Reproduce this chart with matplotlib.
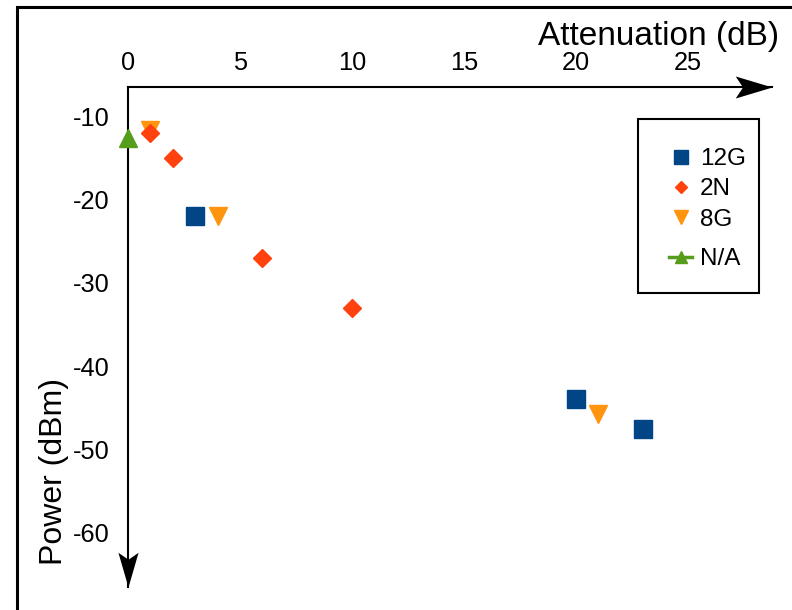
import matplotlib
matplotlib.use("Agg")
import matplotlib.pyplot as plt
from matplotlib.path import Path
from matplotlib.patches import Rectangle

plt.rcParams['font.family'] = ['Liberation Sans', 'DejaVu Sans']
plt.rcParams['axes.unicode_minus'] = False

# ---- data ----
g12_x = [3, 20, 23]
g12_y = [-22, -44, -47.6]
n2_x = [1, 2, 6, 10]
n2_y = [-12, -15, -27, -33]
g8_x = [1, 4, 21]
g8_y = [-11.7, -22, -45.8]
na_x = [0]
na_y = [-12.6]

x_ticks = [0, 5, 10, 15, 20, 25]
y_ticks = [-10, -20, -30, -40, -50, -60]

C_12G = '#004586'
C_2N = '#ff420e'
C_8G = '#ff950e'
C_NA = '#579d1c'

W, H = 792, 610
fig = plt.figure(figsize=(W / 100, H / 100), dpi=100)
ax = fig.add_axes([128 / W, 1 - 587 / H, (772 - 128) / W, (587 - 87) / H])
ax.set_xlim(0, 28.75)
ax.set_ylim(-66.5, -6.5)

ax.plot(g12_x, g12_y, linestyle='none', marker='s', ms=13.5, color=C_12G, label='12G', clip_on=False)
ax.plot(g8_x, g8_y, linestyle='none', marker='v', ms=13.5, color=C_8G, label='8G', clip_on=False)
ax.plot(n2_x, n2_y, linestyle='none', marker='D', ms=8.7, color=C_2N, label='2N', clip_on=False)
ax.plot(na_x, na_y, linestyle='-', lw=2.5, marker='^', ms=13, color=C_NA, label='N/A', clip_on=False, zorder=3)

# axes styling
for s in ['right', 'bottom']:
    ax.spines[s].set_visible(False)
for s in ['top', 'left']:
    ax.spines[s].set_linewidth(1.5)
    ax.spines[s].set_zorder(1)
ax.xaxis.tick_top()
ax.set_xticks(x_ticks)
ax.set_yticks(y_ticks)
ax.tick_params(axis='x', length=0, pad=8.5, labelsize=18.3)
ax.tick_params(axis='y', length=0, pad=13, labelsize=18.3)

# arrow heads
right_head = Path([(0, 0), (-1, 0.3), (-0.8, 0), (-1, -0.3), (0, 0)],
                  [Path.MOVETO, Path.LINETO, Path.LINETO, Path.LINETO, Path.CLOSEPOLY])
down_head = Path([(0, 0), (0.29, 1), (0, 0.8), (-0.29, 1), (0, 0)],
                 [Path.MOVETO, Path.LINETO, Path.LINETO, Path.LINETO, Path.CLOSEPOLY])
ax.plot([1], [1], marker=right_head, ms=53, color='black', transform=ax.transAxes, clip_on=False, markeredgewidth=0)
ax.plot([0], [0], marker=down_head, ms=50, color='black', transform=ax.transAxes, clip_on=False, markeredgewidth=0)

# axis labels
fig.text(779 / W, 1 - 45 / H, 'Attenuation (dB)', ha='right', va='baseline', fontsize=24)
fig.text(62 / W, 1 - 471.5 / H, 'Power (dBm)', rotation=90, rotation_mode='anchor',
         ha='center', va='baseline', fontsize=23)

# legend
h = {l.get_label(): l for l in ax.get_lines() if not l.get_label().startswith('_')}
leg1 = ax.legend([h['12G'], h['2N'], h['8G']], ['12G', '2N', '8G'], frameon=False,
                 loc='upper left', bbox_to_anchor=(669 / W, 1 - 148 / H), bbox_transform=fig.transFigure,
                 borderpad=0, borderaxespad=0, handlelength=0.96, handletextpad=0.3, labelspacing=0.34,
                 markerscale=0.7, fontsize=17.5)
ax.add_artist(leg1)
leg2 = ax.legend([h['N/A']], ['N/A'], frameon=False,
                 loc='center left', bbox_to_anchor=(669 / W, 1 - 259 / H), bbox_transform=fig.transFigure,
                 borderpad=0, borderaxespad=0, handlelength=0.96, handletextpad=0.3,
                 markerscale=0.7, fontsize=17.5)
fig.add_artist(Rectangle((638 / W, 1 - 293 / H), (759 - 638) / W, (293 - 119) / H,
                         transform=fig.transFigure, fill=False, lw=1.5, edgecolor='black'))

# outer frame
fig.add_artist(Rectangle((17 / W, -0.1), 1.2, 1.1 - 6.5 / H,
                         transform=fig.transFigure, fill=False, lw=2.2, edgecolor='black'))

fig.savefig('out.png', dpi=100)
